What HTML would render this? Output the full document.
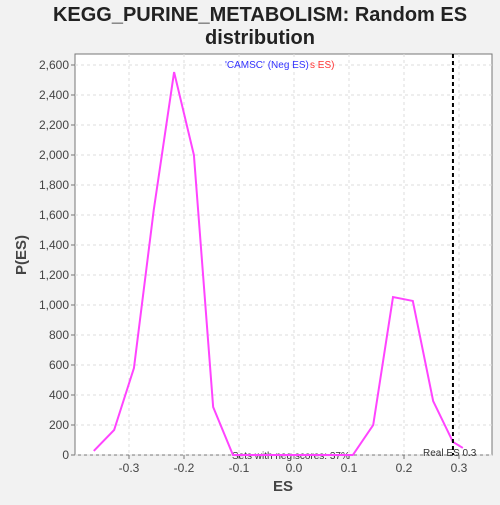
<!DOCTYPE html>
<html><head><style>
body{margin:0;background:#f2f2f2;font-family:"Liberation Sans",sans-serif;}
svg text{font-family:"Liberation Sans",sans-serif;}
</style></head><body>
<svg id="chart" width="500" height="500">
<rect width="500" height="500" fill="#f2f2f2"/>
<text x="260" y="21" text-anchor="middle" font-size="20" font-weight="bold" fill="#222">KEGG_PURINE_METABOLISM: Random ES</text>
<text x="260" y="44" text-anchor="middle" font-size="20" font-weight="bold" fill="#222">distribution</text>
<rect x="75" y="54" width="417" height="401" fill="#fff" stroke="#777"/>
<g id="grid"></g>
<g id="axes"></g>
<text x="283" y="491" text-anchor="middle" font-size="15" font-weight="bold" fill="#444">ES</text>
<text x="26" y="255" text-anchor="middle" font-size="15" font-weight="bold" fill="#444" transform="rotate(-90 26 255)">P(ES)</text>
<text x="225" y="68" font-size="10" fill="#ff3333"><tspan fill="#3333ff">'CAMSC' (Neg ES)</tspan><tspan x="310">s ES)</tspan></text>
<text x="232" y="459" font-size="10" fill="#333">Sets with neg scores: 37%</text>
<text x="423" y="456" font-size="10" fill="#333">Real ES 0.3</text>
<g id="marks"></g>
</svg>
<script>
const esValues=[-0.364,-0.327,-0.291,-0.255,-0.218,-0.182,-0.147,-0.111,-0.075,-0.038,0,0.035,0.071,0.107,0.144,0.18,0.216,0.253,0.289,0.307];
const densities=[27,167,580,1633,2553,2000,320,0,0,0,0,0,0,0,200,1053,1027,360,87,47];
const xTicks=[-0.3,-0.2,-0.1,0.0,0.1,0.2,0.3];
const yTicks=[0,200,400,600,800,1000,1200,1400,1600,1800,2000,2200,2400,2600];
const realES=0.289;
const NS="http://www.w3.org/2000/svg";
const sx=v=>294+v*550;
const sy=v=>455-v*0.15;
const grid=document.getElementById('grid'),axes=document.getElementById('axes'),marks=document.getElementById('marks');
function mk(tag,attrs,parent){const e=document.createElementNS(NS,tag);for(const k in attrs)e.setAttribute(k,attrs[k]);parent.appendChild(e);return e;}
xTicks.forEach(t=>{
 const gl=mk('line',{x1:sx(t),x2:sx(t),y1:54,y2:455,stroke:'#ddd','stroke-dasharray':'3,3'},grid);
 
 
 const tk=mk('line',{x1:sx(t),x2:sx(t),y1:455,y2:459,stroke:'#777'},axes);
 
 
 const tx=mk('text',{x:sx(t),y:472,'text-anchor':'middle','font-size':12,fill:'#444'},axes);
 tx.textContent=t.toFixed(1);
 
 
});
yTicks.forEach(t=>{
 const gl=mk('line',{x1:75,x2:492,y1:sy(t),y2:sy(t),stroke:'#ddd','stroke-dasharray':'3,3'},grid);
 
 
 const tk=mk('line',{x1:71,x2:75,y1:sy(t),y2:sy(t),stroke:'#777'},axes);
 
 
 const tx=mk('text',{x:69,y:sy(t)+4,'text-anchor':'end','font-size':12,fill:'#444'},axes);
 tx.textContent=t.toLocaleString('en-US');
 
 
});
const pl=mk('polyline',{points:esValues.map((v,i)=>sx(v)+','+sy(densities[i])).join(' '),fill:'none',stroke:'#ff44ff','stroke-width':2},marks);


const rl=mk('line',{x1:sx(realES),x2:sx(realES),y1:54,y2:455,stroke:'#000','stroke-width':2,'stroke-dasharray':'4,3'},marks);


</script>
</body></html>
